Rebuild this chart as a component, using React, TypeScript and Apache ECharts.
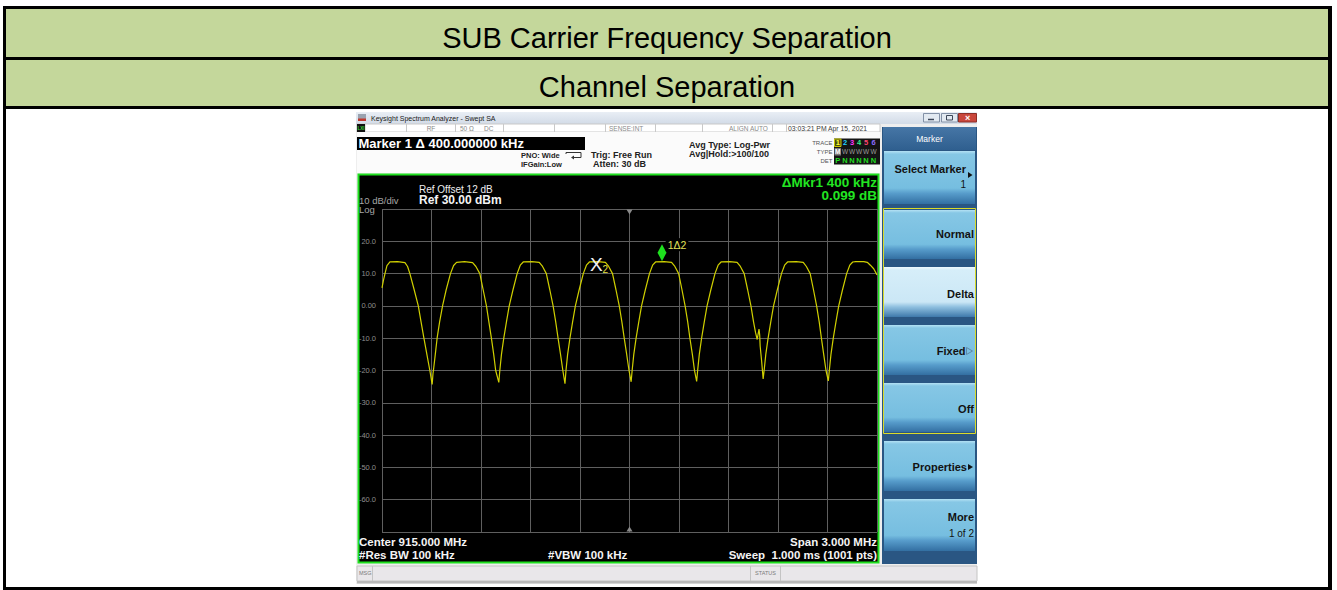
import React, { useEffect, useRef } from "react";
import * as echarts from "echarts";

const FF = '"Liberation Sans", Arial, Helvetica, sans-serif';

// ---------------- data ----------------
const TITLE_ROW_1 = "SUB Carrier Frequency Separation";
const TITLE_ROW_2 = "Channel Separation";

const FREQ_START_MHZ = 913.5;
const FREQ_STOP_MHZ = 916.5;
const FREQ_DIV_MHZ = 0.3;
const CENTER_MHZ = 915.0;

const REF_LEVEL_DBM = 30;
const BOTTOM_LEVEL_DBM = -70;
const DB_PER_DIV = 10;

const Y_TICK_VALUES = [20, 10, 0, -10, -20, -30, -40, -50, -60];
const Y_TICK_TEXTS = ["20.0", "10.0", "0.00", "-10.0", "-20.0", "-30.0", "-40.0", "-50.0", "-60.0"];

// trace (MHz, dBm)
const TRACE_MHZ = [
  913.5, 913.509, 913.518, 913.53, 913.548, 913.594, 913.639, 913.655, 913.669, 913.695, 913.72, 913.737, 913.754, 913.772, 913.79, 913.804,
  913.809, 913.814, 913.823, 913.834, 913.849, 913.867, 913.889, 913.915, 913.934, 913.952, 914.0, 914.049, 914.069, 914.093, 914.113, 914.133, 914.148, 914.163, 914.177, 914.189, 914.208,
  914.214, 914.224, 914.238, 914.254, 914.271, 914.294, 914.319, 914.338, 914.356, 914.408, 914.453, 914.473, 914.496, 914.517, 914.537, 914.553, 914.567, 914.582, 914.596, 914.609,
  914.615, 914.625, 914.639, 914.655, 914.672, 914.695, 914.72, 914.739, 914.757, 914.809, 914.854, 914.874, 914.897, 914.918, 914.938, 914.954, 914.968, 914.983, 914.997, 915.01,
  915.016, 915.026, 915.04, 915.056, 915.073, 915.096, 915.121, 915.14, 915.158, 915.21, 915.255, 915.275, 915.298, 915.318, 915.337, 915.353, 915.366, 915.381, 915.394, 915.407,
  915.413, 915.423, 915.437, 915.453, 915.47, 915.493, 915.518, 915.537, 915.555, 915.607, 915.652, 915.672, 915.695, 915.716, 915.736, 915.752, 915.764, 915.774, 915.78, 915.785, 915.789, 915.792, 915.801, 915.81,
  915.816, 915.826, 915.84, 915.856, 915.873, 915.896, 915.921, 915.94, 915.958, 916.01, 916.053, 916.072, 916.095, 916.115, 916.134, 916.15, 916.163, 916.177, 916.191, 916.205,
  916.211, 916.221, 916.235, 916.251, 916.268, 916.291, 916.316, 916.335, 916.353, 916.371, 916.42, 916.441, 916.46, 916.48, 916.5,
];
const TRACE_DBM = [
  5.6, 8.0, 10.0, 12.5, 13.6, 13.7, 13.4, 12.2, 10.0, 5.0, 0.0, -5.0, -10.0, -15.0, -20.0, -24.3,
  -21.0, -19.0, -15.0, -10.0, -5.0, 0.0, 5.0, 10.0, 12.5, 13.5, 13.7, 13.4, 12.2, 10.0, 5.0, 0.0, -5.0, -10.0, -15.0, -20.0, -23.7,
  -20.0, -15.0, -10.0, -5.0, 0.0, 5.0, 10.0, 12.6, 13.6, 13.7, 13.5, 12.2, 10.0, 5.0, 0.0, -5.0, -10.0, -15.0, -20.0, -24.1,
  -20.0, -15.0, -10.0, -5.0, 0.0, 5.0, 10.0, 12.6, 13.6, 13.7, 13.5, 12.2, 10.0, 5.0, 0.0, -5.0, -10.0, -15.0, -20.0, -23.5,
  -20.0, -15.0, -10.0, -5.0, 0.0, 5.0, 10.0, 12.6, 13.6, 13.7, 13.5, 12.2, 10.0, 5.0, 0.0, -5.0, -10.0, -15.0, -20.0, -23.4,
  -20.0, -15.0, -10.0, -5.0, 0.0, 5.0, 10.0, 12.6, 13.6, 13.7, 13.5, 12.2, 10.0, 5.0, 0.0, -5.0, -8.3, -10.4, -8.6, -7.2, -9.0, -12.5, -17.2, -22.6,
  -20.0, -15.0, -10.0, -5.0, 0.0, 5.0, 10.0, 12.6, 13.6, 13.7, 13.5, 12.2, 10.0, 5.0, 0.0, -5.0, -10.0, -15.0, -20.0, -23.2,
  -20.0, -15.0, -10.0, -5.0, 0.0, 5.0, 10.0, 12.6, 13.6, 13.7, 13.7, 13.5, 12.6, 11.5, 9.6,
];

const MARKER_1_MHZ = 915.197;
const MARKER_1_DBM = 13.7;
const MARKER_1_LABEL = "1\u03942";
const MARKER_2_MHZ = 914.797;
const MARKER_2_DBM = 13.7;
const MARKER_2_LABEL = "X";
const MARKER_2_SUB = "2";

const HEADER_MARKER = "Marker 1 \u0394 400.000000 kHz";
const DELTA_READOUT_1 = "\u0394Mkr1 400 kHz";
const DELTA_READOUT_2 = "0.099 dB";
const REF_OFFSET_TEXT = "Ref Offset 12 dB";
const REF_LEVEL_TEXT = "Ref 30.00 dBm";
const SCALE_TEXT = "10 dB/div";
const SCALE_TYPE_TEXT = "Log";
const CENTER_TEXT = "Center 915.000 MHz";
const RBW_TEXT = "#Res BW 100 kHz";
const VBW_TEXT = "#VBW 100 kHz";
const SPAN_TEXT = "Span 3.000 MHz";
const SWEEP_TEXT = "Sweep  1.000 ms (1001 pts)";

const SOFTKEY_TITLE = "Marker";
const SOFTKEY_LABELS = ["Select Marker", "Normal", "Delta", "Fixed", "Off", "Properties", "More"];
const SOFTKEY_SUBLABELS = ["1", "", "", "", "", "", "1 of 2"];

// ---------------- helpers ----------------
function rect(x: number, y: number, w: number, h: number, fill: any, stroke?: string, lw = 1, z = -10) {
  return {
    type: "rect",
    silent: true,
    z,
    shape: { x, y, width: w, height: h },
    style: { fill, stroke: stroke || null, lineWidth: stroke ? lw : 0 },
  };
}
function txt(x: number, y: number, s: string, font: string, fill: string, align = "left", z = 50) {
  return {
    type: "text",
    silent: true,
    z,
    x,
    y,
    style: {
      text: s,
      font,
      fill,
      textAlign: align,
      textVerticalAlign: "middle",
      align,
      verticalAlign: "middle",
    },
  };
}
function line(x1: number, y1: number, x2: number, y2: number, color: string, w = 1, z = -9) {
  return { type: "line", silent: true, z, shape: { x1, y1, x2, y2 }, style: { stroke: color, lineWidth: w } };
}
function poly(points: number[][], fill: string | null, stroke?: string, z = 50) {
  return {
    type: "polygon",
    silent: true,
    z,
    shape: { points },
    style: { fill: fill || "none", stroke: stroke || null, lineWidth: stroke ? 1 : 0 },
  };
}
function grad(stops: [number, string][]) {
  return {
    type: "linear",
    x: 0,
    y: 0,
    x2: 0,
    y2: 1,
    colorStops: stops.map(([offset, color]) => ({ offset, color })),
  };
}

function buildGraphic() {
  const g: any[] = [];
  // table frame
  g.push(rect(3, 6, 1329, 584, "#000000", undefined, 1, -20));
  g.push(rect(6, 9, 1322, 48, "#c4d79b", undefined, 1, -19));
  g.push(rect(6, 60, 1322, 46, "#c4d79b", undefined, 1, -19));
  g.push(rect(6, 109, 1322, 478, "#ffffff", undefined, 1, -19));
  g.push(txt(667, 38, TITLE_ROW_1, `29px ${FF}`, "#000000", "center"));
  g.push(txt(667, 87, TITLE_ROW_2, `29px ${FF}`, "#000000", "center"));

  // analyzer window
  g.push(rect(356, 112, 621, 472, "#eeeeee", undefined, 1, -18));
  g.push(rect(356, 112, 621, 12, grad([[0, "#e9eef5"], [1, "#d2dbe7"]]), undefined, 1, -17));
  g.push(rect(358, 114, 8, 7, "#9aa3b0", undefined, 1, -16));
  g.push(rect(358, 118.5, 8, 2.5, "#c2392e", undefined, 1, -15));
  g.push(txt(371, 118.5, "Keysight Spectrum Analyzer - Swept SA", `7px ${FF}`, "#202020"));
  g.push(rect(923.5, 113.5, 16, 8.5, "#e2e9f1", "#8391a6", 1, -16));
  g.push(rect(941.5, 113.5, 16, 8.5, "#e2e9f1", "#8391a6", 1, -16));
  g.push(rect(958.5, 113.5, 18, 8.5, "#c9473c", "#8c2f28", 1, -16));
  g.push(line(928, 119.5, 934, 119.5, "#3c4658", 1.5, -14));
  g.push(rect(946.5, 115.5, 6, 4.5, "none", "#3c4658", 1, -14));
  g.push(txt(967.5, 118, "\u00d7", `bold 9px ${FF}`, "#ffffff", "center"));

  // status row
  g.push(rect(357, 124, 523, 8, "#ffffff", "#c9c9c9", 1, -16));
  [365, 406.5, 455.5, 503.5, 554.5, 605.5, 655.5, 702.5, 772.5, 786.5].forEach((x) =>
    g.push(line(x, 124, x, 132, "#c9c9c9", 1, -15))
  );
  g.push(rect(357, 124, 8, 8, "#111111", undefined, 1, -14));
  g.push(txt(361, 128, "LXI", `bold 4.5px ${FF}`, "#39d839", "center"));
  g.push(txt(431, 128, "RF", `6.5px ${FF}`, "#8a8a8a", "center"));
  g.push(txt(460, 128, "50 \u03a9", `6.5px ${FF}`, "#8a8a8a"));
  g.push(txt(484, 128, "DC", `6.5px ${FF}`, "#8a8a8a"));
  g.push(txt(609, 128, "SENSE:INT", `6.5px ${FF}`, "#8a8a8a"));
  g.push(txt(729, 128, "ALIGN AUTO", `6.5px ${FF}`, "#8a8a8a"));
  g.push(txt(788, 128, "03:03:21 PM Apr 15, 2021", `6.8px ${FF}`, "#3a3a3a"));

  // info area
  g.push(rect(357, 132, 523, 41, "#fbfbfb", undefined, 1, -16));
  g.push(rect(357, 137, 228, 13, "#000000", undefined, 1, -15));
  g.push(txt(358.5, 143.8, HEADER_MARKER, `bold 13px ${FF}`, "#ffffff"));
  g.push(txt(521, 155.5, "PNO: Wide", `bold 7.5px ${FF}`, "#222222"));
  g.push(txt(521, 164.5, "IFGain:Low", `bold 7.5px ${FF}`, "#222222"));
  g.push({
    type: "polyline",
    silent: true,
    z: 50,
    shape: { points: [[566, 154], [566, 152.5], [581, 152.5], [581, 157.5], [574, 157.5]] },
    style: { stroke: "#333333", lineWidth: 1, fill: "none" },
  });
  g.push(poly([[574, 155.5], [574, 159.5], [571, 157.5]], "#333333"));
  g.push(txt(591, 154.5, "Trig: Free Run", `bold 9px ${FF}`, "#222222"));
  g.push(txt(593, 163.5, "Atten: 30 dB", `bold 9px ${FF}`, "#222222"));
  g.push(txt(689, 144.5, "Avg Type: Log-Pwr", `bold 9px ${FF}`, "#222222"));
  g.push(txt(689, 153.5, "Avg|Hold:>100/100", `bold 9px ${FF}`, "#222222"));
  g.push(txt(832.5, 142.5, "TRACE", `6px ${FF}`, "#555555", "right"));
  g.push(txt(832.5, 151.5, "TYPE", `6px ${FF}`, "#555555", "right"));
  g.push(txt(832.5, 160.5, "DET", `6px ${FF}`, "#555555", "right"));
  g.push(rect(834, 138.5, 46, 26, "#141414", undefined, 1, -14));
  g.push(rect(834.5, 139, 6.5, 7.5, "#4d4d10", "#c8c800", 1, -13));
  g.push(rect(834.5, 148, 6.5, 7.5, "#7a7a7a", undefined, 1, -13));
  const traceCols = ["#ffff30", "#22d3ff", "#ff33ff", "#33ee88", "#ff4470", "#8c6cff"];
  const xs = [837.75, 845, 852, 859, 866, 873.5];
  xs.forEach((x, i) => g.push(txt(x, 142.8, String(i + 1), `bold 7.5px ${FF}`, traceCols[i], "center")));
  g.push(txt(837.75, 151.8, "M", `bold 6.5px ${FF}`, "#ffffff", "center"));
  xs.slice(1).forEach((x) => g.push(txt(x, 151.8, "W", `6.5px ${FF}`, "#9c9c9c", "center")));
  g.push(txt(837.75, 160.8, "P", `bold 7.5px ${FF}`, "#22dd22", "center"));
  xs.slice(1).forEach((x) => g.push(txt(x, 160.8, "N", `bold 7.5px ${FF}`, "#22dd22", "center")));

  // display
  g.push(rect(358.5, 174.5, 520, 388, "#000000", "#1fe01f", 2, -12));
  g.push(txt(419, 189, REF_OFFSET_TEXT, `10px ${FF}`, "#eeeeee"));
  g.push(txt(419, 200, REF_LEVEL_TEXT, `bold 12px ${FF}`, "#f4f4f4"));
  g.push(txt(359, 200, SCALE_TEXT, `9.5px ${FF}`, "#a6a6a6"));
  g.push(txt(359, 209.5, SCALE_TYPE_TEXT, `9.5px ${FF}`, "#a6a6a6"));
  g.push(txt(877, 182, DELTA_READOUT_1, `bold 13.5px ${FF}`, "#22e622", "right"));
  g.push(txt(877, 195.5, DELTA_READOUT_2, `bold 13.5px ${FF}`, "#22e622", "right"));
  g.push(txt(359, 541.5, CENTER_TEXT, `bold 11.5px ${FF}`, "#f4f4f4"));
  g.push(txt(359, 554.5, RBW_TEXT, `bold 11.5px ${FF}`, "#f4f4f4"));
  g.push(txt(548, 554.5, VBW_TEXT, `bold 11.5px ${FF}`, "#f4f4f4"));
  g.push(txt(877, 541.5, SPAN_TEXT, `bold 11.5px ${FF}`, "#f4f4f4", "right"));
  g.push(txt(877, 554.5, SWEEP_TEXT, `bold 11.5px ${FF}`, "#f4f4f4", "right"));

  // softkey panel
  g.push(rect(882, 127, 95, 437, "#2a5683", undefined, 1, -16));
  g.push(rect(883, 127, 93, 23, grad([[0, "#4676a6"], [1, "#2f5f8f"]]), undefined, 1, -15));
  g.push(txt(929.5, 139, SOFTKEY_TITLE, `8.5px ${FF}`, "#ffffff", "center"));
  const normalStops: [number, string][] = [[0, "#b4e1f4"], [0.06, "#86c7e5"], [0.7, "#76bee0"], [0.8, "#579ccb"], [1, "#336fa2"]];
  const paleStops: [number, string][] = [[0, "#eef9fe"], [0.06, "#d6eef9"], [0.7, "#cbe7f6"], [0.8, "#8ebfdf"], [1, "#3f79ab"]];
  const keys = [
    [151, 204],
    [210, 259],
    [267, 317],
    [325, 375],
    [383, 432],
    [441, 491],
    [499, 551],
  ];
  keys.forEach(([t, b], i) => g.push(rect(884, t, 91, b - t, grad(i === 2 ? paleStops : normalStops), undefined, 1, -14)));
  g.push(rect(883.5, 208.5, 92, 225, "none", "#dada2a", 1, -13));
  const kf = `bold 11px ${FF}`;
  g.push(txt(966, 169, SOFTKEY_LABELS[0], kf, "#121212", "right"));
  g.push(txt(966, 184, SOFTKEY_SUBLABELS[0], `10px ${FF}`, "#121212", "right"));
  g.push(poly([[968, 172], [968, 178], [972.5, 175]], "#121212"));
  g.push(txt(974, 234, SOFTKEY_LABELS[1], kf, "#121212", "right"));
  g.push(txt(974, 294, SOFTKEY_LABELS[2], kf, "#121212", "right"));
  g.push(txt(965.5, 351, SOFTKEY_LABELS[3], kf, "#121212", "right"));
  g.push(poly([[966.5, 347.5], [966.5, 354.5], [972.5, 351]], null, "#5f88a6"));
  g.push(txt(974, 409, SOFTKEY_LABELS[4], kf, "#121212", "right"));
  g.push(txt(967, 467, SOFTKEY_LABELS[5], kf, "#121212", "right"));
  g.push(poly([[968, 464], [968, 470], [973, 467]], "#121212"));
  g.push(txt(974, 517, SOFTKEY_LABELS[6], kf, "#121212", "right"));
  g.push(txt(974, 533, SOFTKEY_SUBLABELS[6], `10px ${FF}`, "#121212", "right"));

  // message bar
  g.push(rect(357, 566, 620, 15, "#e9e7ea", "#c4c4c4", 1, -16));
  g.push(line(372.5, 566, 372.5, 581, "#c4c4c4", 1, -15));
  g.push(line(750.5, 566, 750.5, 581, "#c4c4c4", 1, -15));
  g.push(line(780.5, 566, 780.5, 581, "#c4c4c4", 1, -15));
  g.push(txt(359, 573, "MSG", `5.5px ${FF}`, "#7a7a7a"));
  g.push(txt(765.5, 573, "STATUS", `5.5px ${FF}`, "#7a7a7a", "center"));
  g.push(rect(357, 581, 620, 2.5, "#b9b9b9", undefined, 1, -16));
  return g;
}

export default function App() {
  const ref = useRef<HTMLDivElement>(null);
  useEffect(() => {
    if (!ref.current) return;
    const chart = echarts.init(ref.current, undefined, { renderer: "svg" });
    const data = TRACE_MHZ.map((f, i) => [f, TRACE_DBM[i]]);
    const option: any = {
      animation: false,
      backgroundColor: "#ffffff",
      grid: { left: 382, top: 209, width: 495, height: 323, show: false, containLabel: false },
      xAxis: {
        type: "value",
        min: FREQ_START_MHZ,
        max: FREQ_STOP_MHZ,
        interval: FREQ_DIV_MHZ,
        axisLine: { show: false },
        axisTick: { show: false },
        axisLabel: { show: false },
        splitLine: { show: true, lineStyle: { color: "#5f5f5f", width: 1 } },
      },
      yAxis: {
        type: "value",
        min: BOTTOM_LEVEL_DBM,
        max: REF_LEVEL_DBM,
        interval: DB_PER_DIV,
        axisLine: { show: false },
        axisTick: { show: false },
        axisLabel: {
          color: "#8e8e8e",
          fontSize: 7.5,
          fontFamily: FF,
          margin: 6,
          formatter: (v: number) => {
            const i = Y_TICK_VALUES.indexOf(Math.round(v));
            return i >= 0 ? Y_TICK_TEXTS[i] : "";
          },
        },
        splitLine: { show: true, lineStyle: { color: "#5f5f5f", width: 1 } },
      },
      series: [
        {
          type: "line",
          data,
          symbol: "none",
          showSymbol: false,
          z: 3,
          lineStyle: { color: "#d0d000", width: 1.2 },
          markPoint: {
            silent: true,
            animation: false,
            data: [
              {
                coord: [MARKER_1_MHZ, MARKER_1_DBM],
                symbol: "diamond",
                symbolSize: [9, 17],
                symbolOffset: [0, -9],
                itemStyle: { color: "#1ee01e" },
                label: {
                  show: true,
                  formatter: MARKER_1_LABEL,
                  position: "inside",
                  offset: [15, -8],
                  color: "#e0e05a",
                  fontSize: 10.5,
                  fontFamily: FF,
                  backgroundColor: "#000000",
                  padding: [1, 2],
                },
              },
              {
                coord: [MARKER_2_MHZ, MARKER_2_DBM],
                symbol: "rect",
                symbolSize: 1,
                itemStyle: { color: "rgba(0,0,0,0)" },
                label: {
                  show: true,
                  position: "inside",
                  offset: [3, 3],
                  formatter: `{x|${MARKER_2_LABEL}}{s|${MARKER_2_SUB}}`,
                  rich: {
                    x: { fontSize: 19, color: "#f2f2f2", fontFamily: FF, lineHeight: 20 },
                    s: { fontSize: 10, color: "#e0e040", fontFamily: FF, padding: [9, 0, 0, 0] },
                  },
                },
              },
              {
                coord: [CENTER_MHZ, REF_LEVEL_DBM],
                symbol: "triangle",
                symbolRotate: 180,
                symbolSize: [6, 5],
                symbolOffset: [0, 3],
                itemStyle: { color: "#8a8a8a" },
                label: { show: false },
              },
              {
                coord: [CENTER_MHZ, BOTTOM_LEVEL_DBM],
                symbol: "triangle",
                symbolSize: [6, 5],
                symbolOffset: [0, -3],
                itemStyle: { color: "#8a8a8a" },
                label: { show: false },
              },
            ],
          },
        },
      ],
      graphic: { elements: buildGraphic() },
    };
    chart.setOption(option);
    return () => chart.dispose();
  }, []);
  return (
    <div
      ref={ref}
      style={{ position: "fixed", left: 0, top: 0, width: 1337, height: 590 }}
    />
  );
}
